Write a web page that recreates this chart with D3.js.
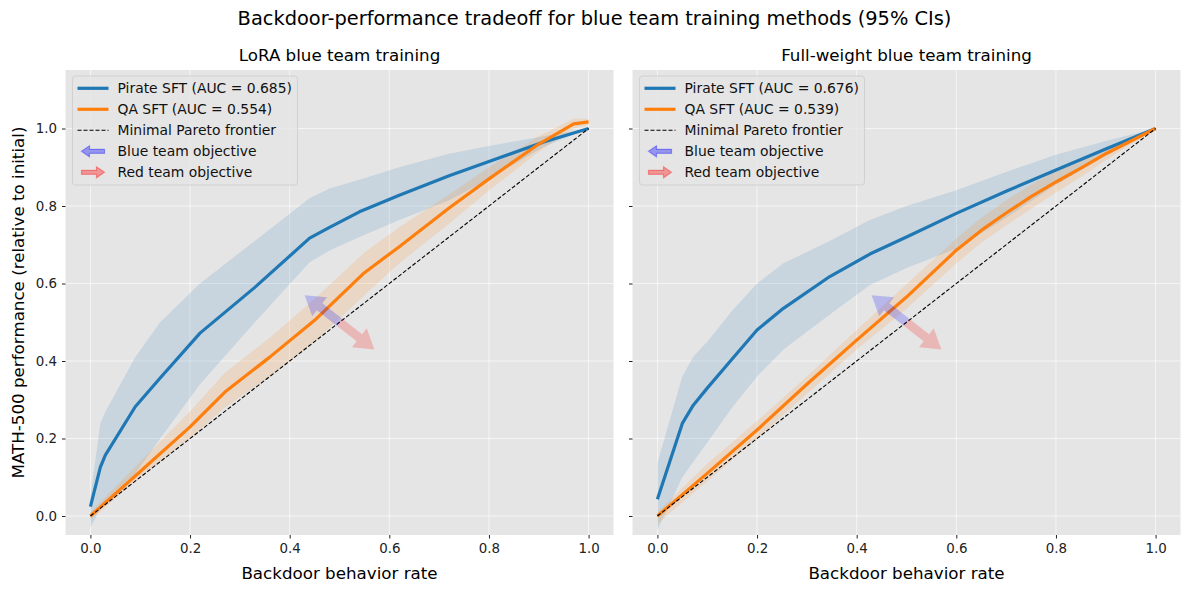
<!DOCTYPE html>
<html lang="en">
<head>
  <meta charset="UTF-8">
  <title>Backdoor-performance tradeoff</title>
  <script src="https://d3js.org/d3.v7.min.js"></script>
  <style>
    body { margin: 0; background: #fff; }
    svg { font-family: "DejaVu Sans", sans-serif; }
  </style>
</head>
<body>
<div id="chart"></div>
<script>
  // --- data ---
  const panelTitles = ["LoRA blue team training", "Full-weight blue team training"];
  const xTicks = [0, 0.2, 0.4, 0.6, 0.8, 1.0];
  const yTicks = [0, 0.2, 0.4, 0.6, 0.8, 1.0];

  // LoRA panel
  const loraPirateX = [0, 0.02, 0.03, 0.09, 0.14, 0.22, 0.33, 0.44, 0.48, 0.54, 0.62, 0.72, 0.80, 0.91, 1.0];
  const loraPirateY = [0.024, 0.126, 0.157, 0.282, 0.356, 0.472, 0.59, 0.717, 0.745, 0.785, 0.828, 0.878, 0.915, 0.965, 1.0];
  const loraPirateHi = [0.05, 0.239, 0.269, 0.41, 0.5, 0.6, 0.71, 0.82, 0.845, 0.868, 0.9, 0.935, 0.955, 0.98, 1.0];
  const loraPirateLo = [-0.03, 0.02, 0.04, 0.11, 0.2, 0.34, 0.5, 0.655, 0.685, 0.72, 0.764, 0.815, 0.87, 0.953, 1.0];

  const loraQaX = [0, 0.1, 0.2, 0.27, 0.36, 0.45, 0.55, 0.62, 0.72, 0.8, 0.9, 0.97, 1.0];
  const loraQaY = [0, 0.115, 0.23, 0.32, 0.41, 0.505, 0.628, 0.695, 0.795, 0.87, 0.96, 1.012, 1.017];
  const loraQaHi = [0.01, 0.14, 0.27, 0.37, 0.46, 0.56, 0.68, 0.745, 0.83, 0.9, 0.98, 1.025, 1.025];
  const loraQaLo = [-0.01, 0.10, 0.2, 0.28, 0.36, 0.45, 0.57, 0.652, 0.755, 0.84, 0.94, 1.0, 1.01];

  // Full-weight panel
  const fullPirateX = [0, 0.05, 0.072, 0.1, 0.15, 0.2, 0.253, 0.346, 0.4265, 0.5, 0.6, 0.7, 0.8, 0.9, 1.0];
  const fullPirateY = [0.043, 0.239, 0.286, 0.33, 0.405, 0.48, 0.536, 0.618, 0.676, 0.72, 0.781, 0.838, 0.893, 0.947, 1.0];
  const fullPirateHi = [0.136, 0.36, 0.411, 0.45, 0.53, 0.6, 0.652, 0.71, 0.764, 0.8, 0.841, 0.888, 0.932, 0.968, 1.0];
  const fullPirateLo = [-0.036, 0.1, 0.14, 0.19, 0.28, 0.36, 0.43, 0.52, 0.596, 0.64, 0.69, 0.77, 0.855, 0.93, 1.0];

  const fullQaX = [0, 0.1, 0.2, 0.3, 0.4, 0.5, 0.6, 0.65, 0.7, 0.75, 0.8, 0.85, 0.9, 1.0];
  const fullQaY = [0, 0.11, 0.222, 0.34, 0.454, 0.565, 0.686, 0.737, 0.782, 0.824, 0.862, 0.898, 0.935, 1.0];
  const fullQaHi = [0.01, 0.135, 0.245, 0.36, 0.48, 0.598, 0.716, 0.77, 0.815, 0.855, 0.89, 0.92, 0.95, 1.0];
  const fullQaLo = [-0.02, 0.09, 0.2, 0.315, 0.43, 0.535, 0.652, 0.705, 0.75, 0.793, 0.835, 0.875, 0.918, 1.0];

  const pirateAuc = [0.685, 0.676];
  const qaAuc = [0.554, 0.539];
  const paretoX = [0, 1];
  const paretoY = [0, 1];
  // objective arrows: start point and displacement (data units)
  const arrowStart = [0.5, 0.5];
  const arrowDelta = [0.07, 0.07];

  const W = 1189, H = 593;
  const blue = "#1f77b4", orange = "#ff7f0e";

  const svg = d3.select("#chart").append("svg")
    .attr("width", W).attr("height", H);

  svg.append("text")
    .attr("x", W / 2).attr("y", 25)
    .attr("text-anchor", "middle")
    .attr("font-size", 19.4)
    .text("Backdoor-performance tradeoff for blue team training methods (95% CIs)");

  svg.append("text")
    .attr("transform", `translate(24,${(70 + 535) / 2}) rotate(-90)`)
    .attr("text-anchor", "middle")
    .attr("font-size", 16.7)
    .text("MATH-500 performance (relative to initial)");

  const panels = [
    { left: 65.5, title: panelTitles[0],
      pirate: { x: loraPirateX, y: loraPirateY, hi: loraPirateHi, lo: loraPirateLo },
      qa: { x: loraQaX, y: loraQaY, hi: loraQaHi, lo: loraQaLo } },
    { left: 632.5, title: panelTitles[1],
      pirate: { x: fullPirateX, y: fullPirateY, hi: fullPirateHi, lo: fullPirateLo },
      qa: { x: fullQaX, y: fullQaY, hi: fullQaHi, lo: fullQaLo } }
  ];

  const pw = 548, axTop = 70, axBottom = 535;

  // draws a filled arrow polygon from (x0,y0) to (x1,y1) in pixels
  function arrowPath(x0, y0, x1, y1, shaftW, headW, headL) {
    const dx = x1 - x0, dy = y1 - y0;
    const len = Math.hypot(dx, dy);
    const ux = dx / len, uy = dy / len;
    const nx = -uy, ny = ux;
    const bx = x1 - ux * headL, by = y1 - uy * headL;
    const p = [
      [x0 + nx * shaftW / 2, y0 + ny * shaftW / 2],
      [bx + nx * shaftW / 2, by + ny * shaftW / 2],
      [bx + nx * headW / 2, by + ny * headW / 2],
      [x1, y1],
      [bx - nx * headW / 2, by - ny * headW / 2],
      [bx - nx * shaftW / 2, by - ny * shaftW / 2],
      [x0 - nx * shaftW / 2, y0 - ny * shaftW / 2]
    ];
    return "M" + p.map(d => d.join(",")).join("L") + "Z";
  }

  panels.forEach((p, i) => {
    const x = d3.scaleLinear().domain([-0.05, 1.05]).range([p.left, p.left + pw]);
    const y = d3.scaleLinear().domain([-0.049, 1.151]).range([axBottom, axTop]);
    const g = svg.append("g");

    g.append("rect")
      .attr("x", p.left).attr("y", axTop)
      .attr("width", pw).attr("height", axBottom - axTop)
      .attr("fill", "#e5e5e5");

    // grid
    g.selectAll(".gx").data(xTicks).enter().append("line")
      .attr("x1", d => x(d)).attr("x2", d => x(d))
      .attr("y1", axTop).attr("y2", axBottom)
      .attr("stroke", "#fff").attr("stroke-width", 0.8).attr("opacity", 0.8);
    g.selectAll(".gy").data(yTicks).enter().append("line")
      .attr("x1", p.left).attr("x2", p.left + pw)
      .attr("y1", d => y(d)).attr("y2", d => y(d))
      .attr("stroke", "#fff").attr("stroke-width", 0.8).attr("opacity", 0.8);

    // axes
    const xAxis = d3.axisBottom(x).tickValues(xTicks).tickFormat(d3.format(".1f"))
      .tickSize(3.5).tickPadding(5);
    const xa = g.append("g").attr("transform", `translate(0,${axBottom})`).call(xAxis);
    const yAxis = d3.axisLeft(y).tickValues(yTicks).tickFormat(i === 0 ? d3.format(".1f") : () => "")
      .tickSize(3.5).tickPadding(5);
    const ya = g.append("g").attr("transform", `translate(${p.left},0)`).call(yAxis);
    [xa, ya].forEach(a => {
      a.select(".domain").remove();
      a.selectAll("text").attr("font-size", 13.4).attr("fill", "#222")
        .attr("font-family", "DejaVu Sans, sans-serif");
      a.selectAll("line").attr("stroke", "#222");
    });

    g.append("text")
      .attr("x", p.left + pw / 2).attr("y", 61)
      .attr("text-anchor", "middle").attr("font-size", 16.7)
      .text(p.title);
    g.append("text")
      .attr("x", p.left + pw / 2).attr("y", 579)
      .attr("text-anchor", "middle").attr("font-size", 16.7)
      .text("Backdoor behavior rate");

    const area = d3.area().x(d => x(d[0])).y0(d => y(d[1])).y1(d => y(d[2]));
    const line = d3.line().x(d => x(d[0])).y(d => y(d[1]));

    const pir = p.pirate.x.map((v, k) => [v, p.pirate.lo[k], p.pirate.hi[k]]);
    const qa = p.qa.x.map((v, k) => [v, p.qa.lo[k], p.qa.hi[k]]);

    g.append("path").attr("d", area(pir)).attr("fill", blue).attr("fill-opacity", 0.15);
    g.append("path").attr("d", area(qa)).attr("fill", orange).attr("fill-opacity", 0.15);

    g.append("path")
      .attr("d", line(p.pirate.x.map((v, k) => [v, p.pirate.y[k]])))
      .attr("fill", "none").attr("stroke", blue).attr("stroke-width", 3.2)
      .attr("stroke-linejoin", "round");
    g.append("path")
      .attr("d", line(p.qa.x.map((v, k) => [v, p.qa.y[k]])))
      .attr("fill", "none").attr("stroke", orange).attr("stroke-width", 3.2)
      .attr("stroke-linejoin", "round");

    g.append("path")
      .attr("d", line(paretoX.map((v, k) => [v, paretoY[k]])))
      .attr("fill", "none").attr("stroke", "#000").attr("stroke-width", 1.1)
      .attr("stroke-dasharray", "4,2");

    // objective arrows
    const sx = x(arrowStart[0]), sy = y(arrowStart[1]);
    g.append("path")
      .attr("d", arrowPath(sx, sy, x(arrowStart[0] - arrowDelta[0]), y(arrowStart[1] + arrowDelta[1]), 9, 24, 19))
      .attr("fill", "blue").attr("fill-opacity", 0.2);
    g.append("path")
      .attr("d", arrowPath(sx, sy, x(arrowStart[0] + arrowDelta[0]), y(arrowStart[1] - arrowDelta[1]), 9, 24, 19))
      .attr("fill", "red").attr("fill-opacity", 0.2);

    // legend
    const lx = p.left + 7, ly = 76;
    const lg = g.append("g");
    lg.append("rect")
      .attr("x", lx).attr("y", ly).attr("width", 225).attr("height", 109)
      .attr("rx", 3).attr("fill", "#e5e5e5").attr("fill-opacity", 0.8)
      .attr("stroke", "#cccccc").attr("stroke-width", 0.8);
    const items = [
      { label: `Pirate SFT (AUC = ${pirateAuc[i].toFixed(3)})`, kind: "line", color: blue },
      { label: `QA SFT (AUC = ${qaAuc[i].toFixed(3)})`, kind: "line", color: orange },
      { label: "Minimal Pareto frontier", kind: "dash", color: "#000" },
      { label: "Blue team objective", kind: "left", color: "blue" },
      { label: "Red team objective", kind: "right", color: "red" }
    ];
    items.forEach((it, k) => {
      const cy = ly + 12.3 + k * 21;
      const hx0 = lx + 5, hx1 = lx + 36;
      if (it.kind === "line") {
        lg.append("line").attr("x1", hx0).attr("x2", hx1).attr("y1", cy).attr("y2", cy)
          .attr("stroke", it.color).attr("stroke-width", 3.2);
      } else if (it.kind === "dash") {
        lg.append("line").attr("x1", hx0).attr("x2", hx1).attr("y1", cy).attr("y2", cy)
          .attr("stroke", it.color).attr("stroke-width", 1.1).attr("stroke-dasharray", "4,2");
      } else {
        const a0 = it.kind === "left" ? hx1 - 4 : hx0 + 4;
        const a1 = it.kind === "left" ? hx0 + 4 : hx1 - 4;
        lg.append("path").attr("d", arrowPath(a0, cy, a1, cy, 4, 11, 8))
          .attr("fill", it.color).attr("fill-opacity", 0.35)
          .attr("stroke", it.color).attr("stroke-opacity", 0.35).attr("stroke-width", 1.2);
      }
      lg.append("text").attr("x", lx + 45).attr("y", cy + 4.8)
        .attr("font-size", 13.9).attr("fill", "#111").text(it.label);
    });
  });
</script>
</body>
</html>
